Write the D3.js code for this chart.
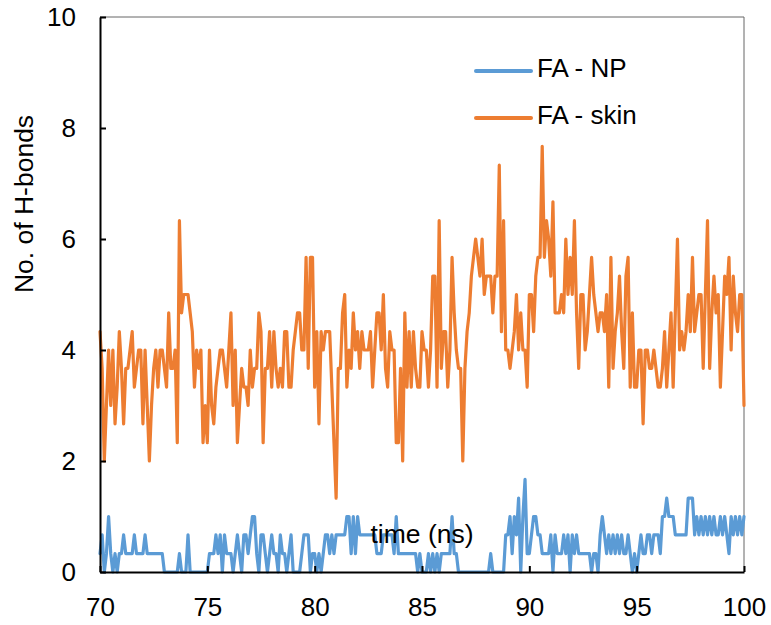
<!DOCTYPE html>
<html>
<head>
<meta charset="utf-8">
<script src="https://cdn.jsdelivr.net/npm/d3@7/dist/d3.min.js"></script>
<style>
  body { margin: 0; background: #fff; }
  svg text { font-family: "Liberation Sans", Arial, sans-serif; fill: #000; }
</style>
</head>
<body>
<svg id="chart" width="771" height="625"></svg>
<script>
// ---- data (sampled every 0.1 ns from 70 to 100 ns) ----
const seriesNames = ["FA - NP", "FA - skin"];
const seriesColors = ["#5B9BD5", "#ED7D31"];
const xTicks = [70, 75, 80, 85, 90, 95, 100];
const yTicks = [0, 2, 4, 6, 8, 10];
const tStart = 70, tStep = 0.1;

const skinValues = [
  4.33,3.67,2.0,3.0,4.0,3.0,4.0,2.67,3.33,4.33,
  3.67,2.67,3.67,3.67,4.0,4.33,3.33,3.67,4.0,4.0,
  2.67,4.0,3.0,2.0,3.0,3.67,4.0,3.33,4.0,4.0,
  3.67,3.33,4.67,3.67,3.67,4.0,2.33,6.33,4.67,5.0,
  5.0,5.0,4.67,4.33,3.33,4.0,3.67,4.0,2.33,3.0,
  2.33,4.0,3.0,2.67,3.33,3.67,4.0,4.0,3.67,3.33,
  4.0,4.67,3.0,4.0,2.33,3.0,3.67,3.33,3.33,3.0,
  4.0,3.33,3.67,3.67,4.67,4.33,2.33,3.67,3.67,4.33,
  3.33,4.33,3.67,3.33,3.67,3.33,4.33,4.33,3.33,3.33,
  4.0,4.33,4.67,4.67,4.0,4.0,5.67,3.67,5.67,5.67,
  3.33,4.33,2.67,4.33,4.0,4.33,4.33,4.33,3.33,2.33,
  1.33,3.67,3.67,4.67,5.0,3.33,4.0,3.67,4.67,4.0,
  4.33,3.67,4.33,4.0,4.0,4.0,4.33,3.33,4.0,4.67,
  4.67,4.0,5.0,3.67,3.33,4.33,4.0,4.0,2.33,2.33,
  3.67,2.0,4.67,3.33,4.33,3.33,4.33,3.67,3.33,3.33,
  4.33,4.0,4.0,3.33,4.0,5.33,5.33,3.33,6.33,3.67,
  4.33,4.33,3.33,4.0,5.67,4.67,4.0,3.67,3.67,2.0,
  3.67,4.33,4.67,5.33,5.67,6.0,5.67,5.33,6.0,5.0,
  5.33,5.33,5.33,4.67,5.33,5.33,7.33,4.33,6.33,4.0,
  4.0,3.67,4.0,4.33,5.0,4.0,4.67,4.0,4.0,3.33,
  5.0,5.0,4.33,5.33,5.67,5.67,7.67,5.67,6.33,6.0,
  5.33,6.67,4.67,4.67,4.67,5.0,4.67,6.0,5.0,5.67,
  5.0,6.33,4.67,3.67,5.0,5.0,4.0,4.33,5.0,5.67,
  5.0,4.67,4.33,4.67,4.67,4.33,5.0,3.33,5.67,3.67,
  4.33,4.67,5.33,4.33,3.67,5.33,5.67,3.33,4.67,3.33,
  3.33,4.0,4.0,2.67,4.0,4.0,3.67,3.67,4.0,3.67,
  3.33,3.33,3.67,4.33,3.33,4.0,4.67,3.33,4.67,6.0,
  4.0,4.33,4.0,4.33,5.0,4.33,5.67,4.33,4.67,5.0,
  5.0,3.67,5.0,6.33,3.67,4.67,5.33,4.67,5.0,3.33,
  4.33,5.33,5.0,5.67,4.0,5.33,4.67,4.33,5.0,5.0,3.0
];

const npValues = [
  0.33,0.67,0,0.33,1.0,0.33,0,0.33,0,0.33,
  0.33,0.67,0.33,0.33,0.33,0.33,0.67,0.33,0.33,0.33,
  0.33,0.67,0.33,0.33,0.33,0.33,0.33,0.33,0.33,0.33,
  0,0,0,0,0,0,0,0.33,0,0,
  0,0.67,0,0,0,0,0,0,0,0,
  0,0.33,0.33,0.33,0.67,0.33,0.67,0,0.67,0.33,
  0.33,0.33,0,0.33,0.67,0.33,0,0.67,0.67,0.33,
  0.67,1.0,1.0,0.33,0,0.67,0.67,0.33,0,0.33,
  0.67,0.33,0.33,0,0.67,0.33,0.33,0,0.33,0.67,
  0,0,0,0,0.33,0.67,0.67,0.67,0,0.33,
  0.33,0,0.33,0,0.33,0.67,0.67,0.33,0.67,0.33,
  0.67,0.67,0.67,0.67,0.67,1.0,1.0,0.33,1.0,0.33,
  1.0,0.67,0.67,0.67,0.67,0.67,0.67,0.67,0.67,0.33,
  0.33,0.33,0.67,0.67,0.67,0.67,0.67,0.33,1.0,0.33,
  0.33,0.33,0.33,0.33,0.33,0.33,0.33,0.33,0,0.33,
  0,0,0,0.33,0,0.33,0,0.33,0,0.33,
  0.33,0.33,0.33,0.33,1.0,0.33,0.33,0,0,0,
  0,0,0,0,0,0,0,0,0,0,
  0,0,0.33,0,0,0,0,0,0,0.67,
  0.67,1.0,0.33,1.0,0.67,1.33,0,1.0,1.67,0.33,
  0.33,0.67,1.0,1.0,0.67,0.67,0.33,0.33,0.33,0.33,
  0.67,0,0.67,0.33,0.33,0.33,0.67,0.33,0.67,0,
  0.67,0.33,0.67,0.33,0.33,0.33,0.33,0.33,0.33,0,
  0.33,0.33,0,0.67,1.0,0.67,0.33,0.67,0.33,0.67,
  0.33,0.67,0.33,0.67,0.33,0.33,0.67,0.33,0,0.33,
  0,0.33,0.67,0.33,0.33,0.67,0.67,0.33,0.67,0.67,
  0.67,0.33,1.0,1.0,1.33,1.0,1.0,1.0,0.67,0.67,
  0.67,0.67,0.67,0.67,1.33,1.33,1.33,0.67,1.0,0.67,
  1.0,0.67,1.0,0.67,1.0,0.67,1.0,0.67,0.67,1.0,
  0.67,1.0,0.67,0.33,1.0,0.67,1.0,0.67,1.0,0.67,1.0
];

// ---- layout ----
const mLeft = 100, mRight = 744, mTop = 17, mBottom = 572;
const svg = d3.select("#chart");

const x = d3.scaleLinear().domain([70, 100]).range([mLeft, mRight]);
const y = d3.scaleLinear().domain([0, 10]).range([mBottom, mTop]);

const toPoints = vals => vals.map((v, i) => ({ t: tStart + i * tStep, v }));
const line = d3.line().x(d => x(d.t)).y(d => y(d.v));

// frame (top & right thin lines)
svg.append("line").attr("x1", mLeft).attr("x2", mRight).attr("y1", mTop).attr("y2", mTop)
  .attr("stroke", "#666").attr("stroke-width", 1);
svg.append("line").attr("x1", mRight).attr("x2", mRight).attr("y1", mTop).attr("y2", mBottom)
  .attr("stroke", "#666").attr("stroke-width", 1);

// series lines
const seriesData = [npValues, skinValues];
seriesData.forEach((vals, k) => {
  svg.append("path")
    .datum(toPoints(vals))
    .attr("fill", "none")
    .attr("stroke", seriesColors[k])
    .attr("stroke-width", 3.2)
    .attr("stroke-linejoin", "round")
    .attr("stroke-linecap", "round")
    .attr("d", line);
});

// axes
const yAxis = svg.append("g").attr("transform", `translate(${mLeft},0)`)
  .call(d3.axisLeft(y).tickValues(yTicks).tickSize(-6).tickSizeOuter(0).tickPadding(24).tickFormat(d3.format("d")));
const xAxis = svg.append("g").attr("transform", `translate(0,${mBottom})`)
  .call(d3.axisBottom(x).tickValues(xTicks).tickSize(-6).tickSizeOuter(0).tickPadding(26).tickFormat(d3.format("d")));

[yAxis, xAxis].forEach(g => {
  g.select(".domain").attr("stroke", "#000").attr("stroke-width", 2);
  g.selectAll(".tick line").attr("stroke", "#000").attr("stroke-width", 2);
  g.selectAll(".tick text").attr("font-size", 26).attr("font-family", "Liberation Sans, Arial, sans-serif").attr("fill", "#000");
});

// axis titles
svg.append("text")
  .attr("transform", "translate(33,204) rotate(-90)")
  .attr("text-anchor", "middle")
  .attr("font-size", 26.5)
  .text("No. of H-bonds");

svg.append("text")
  .attr("x", (mLeft + mRight) / 2)
  .attr("y", 543)
  .attr("text-anchor", "middle")
  .attr("font-size", 26.5)
  .text("time (ns)");

// legend
const legendY = [71, 118];
seriesNames.forEach((name, k) => {
  svg.append("line")
    .attr("x1", 476).attr("x2", 531)
    .attr("y1", legendY[k]).attr("y2", legendY[k])
    .attr("stroke", seriesColors[k]).attr("stroke-width", 4)
    .attr("stroke-linecap", "round");
  svg.append("text")
    .attr("x", 537).attr("y", legendY[k] + 6)
    .attr("font-size", 26)
    .text(name);
});
</script>
</body>
</html>
